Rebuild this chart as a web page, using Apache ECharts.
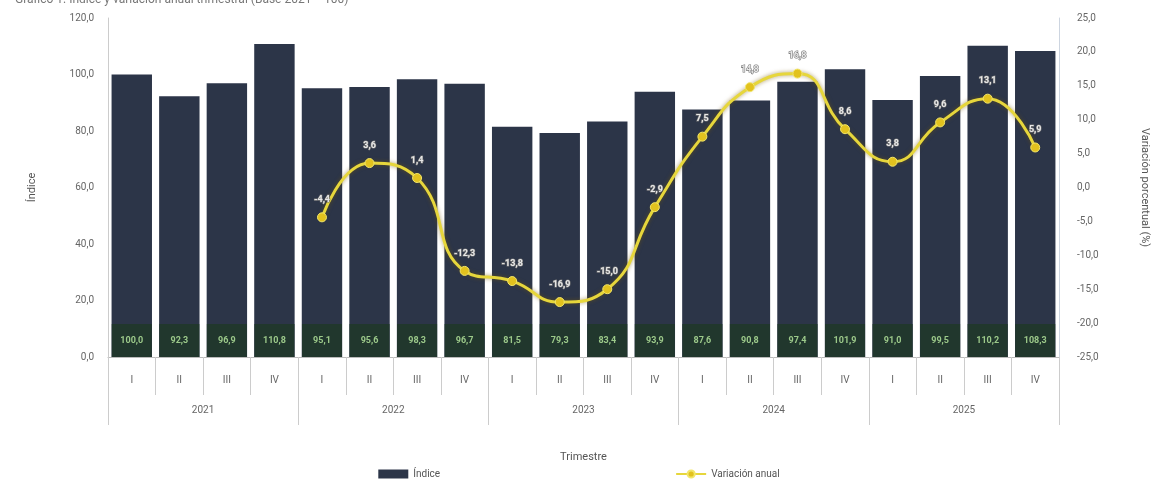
<!DOCTYPE html>
<html><head><meta charset="utf-8">
<script src="https://cdn.jsdelivr.net/npm/echarts@6/dist/echarts.min.js"></script>
<style>html,body{margin:0;padding:0;background:#fff}#c{width:1158px;height:486px}</style>
</head><body><div id="c"></div>
<script>
const quarters = ['I','II','III','IV','I','II','III','IV','I','II','III','IV','I','II','III','IV','I','II','III','IV'];
const years = ['2021','2022','2023','2024','2025'];
const indice = [100.0, 92.3, 96.9, 110.8, 95.1, 95.6, 98.3, 96.7, 81.5, 79.3, 83.4, 93.9, 87.6, 90.8, 97.4, 101.9, 91.0, 99.5, 110.2, 108.3];
const variacion = [null, null, null, null, -4.4, 3.6, 1.4, -12.3, -13.8, -16.9, -15.0, -2.9, 7.5, 14.8, 16.8, 8.6, 3.8, 9.6, 13.1, 5.9];
const leftTicks = {min: 0, max: 120, step: 20};
const rightTicks = {min: -25, max: 25, step: 5};

const fmt = v => v.toFixed(1).replace('.', ',');
const chart = echarts.init(document.getElementById('c'));
chart.setOption({
  animation: false,
  backgroundColor: '#fff',
  textStyle: {fontFamily: 'Roboto, "Noto Sans", sans-serif'},
  title: {
    text: 'Gráfico 1. Índice y variación anual trimestral (Base 2021 = 100)',
    left: 10, top: -11,
    textStyle: {fontSize: 12, color: '#777', fontWeight: 'normal'}
  },
  grid: {left: 108, right: 96, top: 18, bottom: 129},
  legend: {
    bottom: 2, left: 'center', itemGap: 235,
    textStyle: {fontSize: 10, color: '#555'},
    data: [
      {name: 'Índice', icon: 'rect'},
      {name: 'Variación anual'}
    ],
    itemWidth: 30, itemHeight: 9
  },
  xAxis: [
    {
      type: 'category', data: quarters, position: 'bottom',
      axisLine: {onZero: false, lineStyle: {color: '#bbb'}},
      axisTick: {show: true, interval: 0, length: 38, lineStyle: {color: '#ccc'}},
      axisLabel: {interval: 0, color: '#666', fontSize: 10, margin: 18},
      name: 'Trimestre', nameLocation: 'middle', nameGap: 95,
      nameTextStyle: {color: '#555', fontSize: 11}
    },
    {
      type: 'category', data: years, position: 'bottom', offset: 38,
      axisLine: {show: false, onZero: false},
      axisTick: {show: true, interval: 0, length: 30, lineStyle: {color: '#ccc'}},
      axisLabel: {interval: 0, color: '#666', fontSize: 10, margin: 10}
    }
  ],
  yAxis: [
    {
      type: 'value', min: leftTicks.min, max: leftTicks.max, interval: leftTicks.step,
      position: 'left',
      axisLine: {show: true, lineStyle: {color: '#ccc'}},
      axisTick: {show: false},
      splitLine: {show: false},
      axisLabel: {color: '#666', fontSize: 10, margin: 14, formatter: v => fmt(v)},
      name: 'Índice', nameLocation: 'middle', nameGap: 70,
      nameTextStyle: {color: '#555', fontSize: 11}
    },
    {
      type: 'value', min: rightTicks.min, max: rightTicks.max, interval: rightTicks.step,
      position: 'right',
      axisLine: {show: true, lineStyle: {color: '#cdd5e0'}},
      axisTick: {show: false},
      splitLine: {show: false},
      axisLabel: {color: '#666', fontSize: 10, margin: 18, formatter: v => fmt(v)},
      name: 'Variación porcentual (%)', nameLocation: 'middle', nameGap: 80, nameRotate: -90,
      nameTextStyle: {color: '#555', fontSize: 11}
    }
  ],
  series: [
    {
      name: 'Índice', type: 'bar', xAxisIndex: 0, yAxisIndex: 0,
      data: indice, barCategoryGap: '15%',
      itemStyle: {color: '#2c3548'},
      label: {
        show: true, position: 'insideBottom', distance: 0,
        formatter: p => fmt(p.value),
        color: '#9cc98a', fontSize: 9, fontWeight: 'bold',
        width: 36, align: 'center',
        backgroundColor: '#21372d', padding: [12, 2, 12, 2]
      },
      z: 2
    },
    {
      name: 'Variación anual', type: 'line', xAxisIndex: 0, yAxisIndex: 1,
      data: variacion, smooth: true, connectNulls: false,
      symbol: 'circle', symbolSize: 9,
      lineStyle: {color: '#e6d63c', width: 3, shadowColor: 'rgba(120,90,0,0.6)', shadowBlur: 4},
      itemStyle: {color: '#e2c21e', borderColor: '#f2e66a', borderWidth: 1},
      label: {
        show: true, position: 'top', distance: 8,
        formatter: p => fmt(p.value),
        color: '#e8e8e8', fontSize: 9, fontWeight: 'bold',
        textBorderColor: '#777', textBorderWidth: 1.2
      },
      z: 5
    }
  ]
});
</script></body></html>
